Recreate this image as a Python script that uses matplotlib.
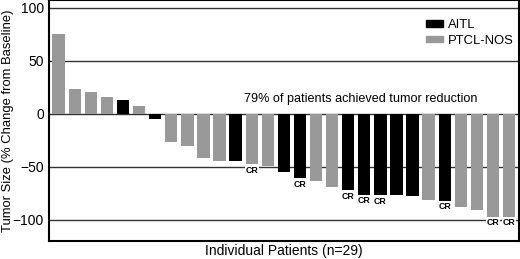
import numpy as np
import matplotlib.pyplot as plt
from matplotlib.patches import Patch

plt.rcParams["font.family"] = ["Liberation Sans", "DejaVu Sans"]

# ----- data -----
change = [75, 23, 21, 15.5, 13, 7, -4.5, -27, -30, -41.5, -44.5, -44.5, -47.5, -49.5,
          -54.5, -61, -63, -69, -72, -76.5, -77, -77, -78, -81.5, -82, -88, -91, -97, -97]
subtype = ["P", "P", "P", "P", "A", "P", "A", "P", "P", "P", "P", "A", "P", "P",
           "A", "A", "P", "P", "A", "A", "A", "A", "A", "P", "A", "P", "P", "P", "P"]
cr_patients = [12, 15, 18, 19, 20, 24, 27, 28]  # zero-based index of bars marked CR

colors = {"A": "black", "P": "#999999"}
names = {"A": "AITL", "P": "PTCL-NOS"}

fig = plt.figure(figsize=(5.2, 2.59), dpi=100)
ax = fig.add_axes([0.094, 0.0695, 0.9035, 0.929])

x = np.arange(len(change))
ax.bar(x, change, width=0.77, color=[colors[s] for s in subtype], zorder=2)

# horizontal grid lines
for yv in [100, 50, 0, -50, -100]:
    ax.axhline(yv, color="#333333", lw=1.0, zorder=1.5)

# CR marks under bars
for i in cr_patients:
    ax.text(x[i], change[i] - 1.5, "CR", ha="center", va="top", fontsize=6.3,
            fontweight="bold", zorder=4,
            bbox=dict(facecolor="white", edgecolor="none", pad=0.3))

ax.text(18.8, 13.5, "79% of patients achieved tumor reduction", ha="center",
        va="center", fontsize=9.1)

handles = [Patch(color=colors[k], label=names[k]) for k in ["A", "P"]]
ax.legend(handles=handles, loc="upper right", frameon=False, fontsize=9.4,
          handlelength=1.3, handleheight=0.4, handletextpad=0.4,
          labelspacing=0.3, bbox_to_anchor=(1.015, 0.972))

ax.set_xlim(-0.61, 28.6)
ax.set_ylim(-120, 107)
ax.set_yticks([100, 50, 0, -50, -100])
ax.set_xticks([])
ax.tick_params(axis="y", length=0, pad=3.5, labelsize=10)
for sp in ax.spines.values():
    sp.set_linewidth(1.5)

fig.text(0.003, 0.535, "Tumor Size (% Change from Baseline)", rotation=90,
         ha="left", va="center", fontsize=9.4)
ax.set_xlabel("Individual Patients (n=29)", fontsize=10, labelpad=2)

plt.savefig("out.png", dpi=100)
